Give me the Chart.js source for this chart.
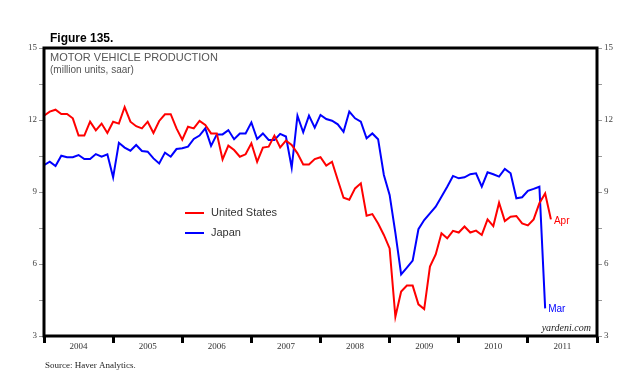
<!DOCTYPE html>
<html>
<head>
<meta charset="utf-8">
<script src="https://cdn.jsdelivr.net/npm/chart.js@4.4.1/dist/chart.umd.min.js"></script>
<style>
  html, body { margin: 0; padding: 0; background: #fff; }
  #wrap { position: relative; width: 640px; height: 386px; }
</style>
</head>
<body>
<div id="wrap"><canvas id="myChart" width="640" height="386"></canvas></div>
<script>
// monthly, million units saar; index 0 = Dec 2003 (left edge), last US = Apr 2011
const usValues = [
  12.18, 12.35, 12.43, 12.25, 12.25, 12.07, 11.35, 11.35, 11.93, 11.57, 11.85, 11.46,
  11.93, 11.85, 12.54, 11.93, 11.74, 11.65, 11.93, 11.46, 11.96, 12.24, 12.24, 11.65,
  11.18, 11.72, 11.65, 11.96, 11.79, 11.44, 11.44, 10.36, 10.93, 10.75, 10.47, 10.57,
  11.03, 10.26, 10.85, 10.89, 11.35, 10.86, 11.14, 10.96, 10.61, 10.15, 10.15, 10.37,
  10.45, 10.10, 10.26, 9.50, 8.76, 8.68, 9.15, 9.36, 8.01, 8.08, 7.69, 7.21,
  6.65, 3.80, 4.85, 5.10, 5.10, 4.32, 4.12, 5.89, 6.40, 7.28, 7.07, 7.38,
  7.31, 7.56, 7.31, 7.39, 7.21, 7.86, 7.58, 8.55, 7.79, 7.97, 8.00, 7.69,
  7.61, 7.86, 8.53, 8.94, 7.86
];
// last Japan = Mar 2011
const japanValues = [
  10.12, 10.26, 10.08, 10.51, 10.45, 10.45, 10.54, 10.37, 10.37, 10.58, 10.47, 10.57,
  9.61, 11.05, 10.85, 10.72, 10.96, 10.71, 10.68, 10.40, 10.19, 10.64, 10.47, 10.79,
  10.82, 10.89, 11.21, 11.35, 11.65, 10.92, 11.40, 11.40, 11.58, 11.20, 11.44, 11.44,
  11.90, 11.21, 11.44, 11.17, 11.17, 11.42, 11.31, 10.01, 12.18, 11.49, 12.18, 11.68,
  12.21, 12.04, 11.97, 11.82, 11.51, 12.35, 12.07, 11.93, 11.24, 11.44, 11.20, 9.71,
  8.88, 7.30, 5.57, 5.85, 6.14, 7.45, 7.83, 8.11, 8.39, 8.80, 9.22, 9.67,
  9.57, 9.61, 9.74, 9.78, 9.22, 9.82, 9.74, 9.64, 9.96, 9.78, 8.74, 8.78,
  9.05, 9.13, 9.22, 4.15
];
const yearLabels = ["2004", "2005", "2006", "2007", "2008", "2009", "2010", "2011"];
const yTicks = [3, 4.5, 6, 7.5, 9, 10.5, 12, 13.5, 15];

const serif = "'Liberation Serif', 'DejaVu Serif', serif";
const sans = "'Liberation Sans', Arial, sans-serif";

function toPoints(values) {
  return values.map((v, i) => ({ x: i, y: v }));
}

function yAxis(position, width) {
  return {
    type: "linear",
    position: position,
    min: 3,
    max: 15,
    afterBuildTicks: (s) => {
      s.ticks = yTicks.map((v) => ({ value: v }));
    },
    afterFit: (s) => {
      s.width = width;
    },
    ticks: {
      autoSkip: false,
      padding: 2,
      color: "#444",
      font: { family: serif, size: 9 },
      callback: (v) => (v % 3 === 0 ? String(v) : ""),
    },
    grid: { drawOnChartArea: false, tickLength: 5, color: "#999", lineWidth: 1 },
    border: { display: false },
  };
}

// frame, legend and notes
const decorPlugin = {
  id: "decor",
  afterDraw(chart) {
    const { ctx, chartArea: a, scales } = chart;
    const x = scales.x, y = scales.y;
    ctx.save();
    ctx.strokeStyle = "#000";
    ctx.lineWidth = 3;
    ctx.strokeRect(a.left, a.top, a.right - a.left, a.bottom - a.top);

    ctx.textBaseline = "alphabetic";
    ctx.fillStyle = "#000";
    ctx.font = "bold 12px " + sans;
    ctx.fillText("Figure 135.", 50, 42);

    ctx.fillStyle = "#555";
    ctx.font = "11px " + sans;
    ctx.fillText("MOTOR VEHICLE PRODUCTION", 50, 61);
    ctx.font = "10px " + sans;
    ctx.fillText("(million units, saar)", 50, 73);

    // legend
    const legend = [
      { label: "United States", color: "#ff0000", y: 213 },
      { label: "Japan", color: "#0000ff", y: 233 },
    ];
    legend.forEach((l) => {
      ctx.strokeStyle = l.color;
      ctx.lineWidth = 2;
      ctx.beginPath();
      ctx.moveTo(185, l.y);
      ctx.lineTo(204, l.y);
      ctx.stroke();
      ctx.fillStyle = "#333";
      ctx.font = "11px " + sans;
      ctx.textBaseline = "middle";
      ctx.fillText(l.label, 211, l.y);
    });

    // end labels
    ctx.font = "10px " + sans;
    const usLast = usValues.length - 1;
    const jpLast = japanValues.length - 1;
    ctx.fillStyle = "#ff0000";
    ctx.fillText("Apr", x.getPixelForValue(usLast) + 3, y.getPixelForValue(usValues[usLast]) + 2);
    ctx.fillStyle = "#0000ff";
    ctx.fillText("Mar", x.getPixelForValue(jpLast) + 3, y.getPixelForValue(japanValues[jpLast]) + 1);

    ctx.fillStyle = "#222";
    ctx.textAlign = "right";
    ctx.textBaseline = "alphabetic";
    ctx.font = "italic 10px " + serif;
    ctx.fillText("yardeni.com", a.right - 6, a.bottom - 5);

    ctx.textAlign = "left";
    ctx.font = "9px " + serif;
    ctx.fillText("Source: Haver Analytics.", 45, 368);
    ctx.restore();
  },
};

const ctx = document.getElementById("myChart").getContext("2d");
const myChart = new Chart(ctx, {
  type: "line",
  data: {
    datasets: [
      {
        label: "United States",
        data: toPoints(usValues),
        borderColor: "#ff0000",
        borderWidth: 2,
        pointRadius: 0,
        tension: 0,
      },
      {
        label: "Japan",
        data: toPoints(japanValues),
        borderColor: "#0000ff",
        borderWidth: 2,
        pointRadius: 0,
        tension: 0,
      },
    ],
  },
  options: {
    responsive: false,
    animation: false,
    layout: { padding: { top: 48, left: 0, right: 0, bottom: 0 } },
    plugins: { legend: { display: false }, tooltip: { enabled: false } },
    scales: {
      x: {
        type: "linear",
        min: 0,
        max: 96,
        afterBuildTicks: (s) => {
          const t = [];
          for (let v = 0; v <= 96; v += 6) t.push({ value: v });
          s.ticks = t;
        },
        afterFit: (s) => {
          s.height = 50;
        },
        ticks: {
          autoSkip: false,
          maxRotation: 0,
          padding: -2,
          color: "#333",
          font: { family: serif, size: 9 },
          callback: (v) => (v % 12 === 6 ? yearLabels[(v - 6) / 12] : ""),
        },
        grid: {
          drawOnChartArea: false,
          tickLength: 7,
          color: "#000",
          lineWidth: (c) => (c.tick && c.tick.value % 12 === 0 ? 3 : 0),
        },
        border: { display: false },
      },
      y: yAxis("left", 44),
      y2: yAxis("right", 43),
    },
  },
  plugins: [decorPlugin],
});
</script>
</body>
</html>
